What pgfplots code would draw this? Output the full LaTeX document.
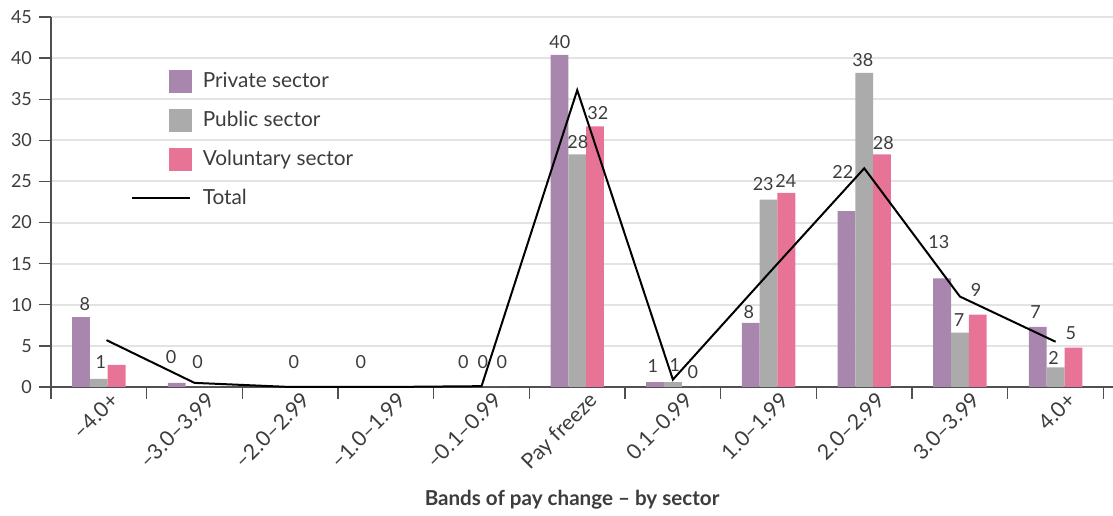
\documentclass[border=0pt]{standalone}
\usepackage{fontspec}
\setmainfont{Lato}
\usepackage{pgfplots}
\usepackage{pgfplotstable}
\pgfplotsset{compat=1.18}
\usetikzlibrary{calc}

\definecolor{priv}{HTML}{A886AE}
\definecolor{pub}{HTML}{ABABAB}
\definecolor{vol}{HTML}{E77496}
\definecolor{txt}{HTML}{3C3C3C}
\definecolor{gridc}{HTML}{E3E3E3}
\definecolor{axc}{HTML}{505050}

\pgfplotsset{
  sqleg/.style={legend image code/.code={\fill[##1] (18.5pt,-5.75pt) rectangle (30pt,5.75pt); \path (0pt,0pt) (33pt,0pt);}},
  lnleg/.style={legend image code/.code={\draw[##1] (0pt,0pt) -- (29pt,0pt); \path (33pt,0pt);}},
}

% bar heights per band (0 = -4.0+, 5 = pay freeze, 10 = 4.0+)
\pgfplotstableread{
cat priv pub  vol
0   8.5  1.0  2.7
1   0.5  0    0
2   0    0    0
3   0    0    0
4   0    0    0
5   40.4 28.3 31.7
6   0.6  0.6  0
7   7.8  22.8 23.6
8   21.4 38.2 28.3
9   13.2 6.6  8.8
10  7.3  2.4  4.8
}\bars

\begin{document}
\begin{tikzpicture}[lab/.style={font=\fontsize{9}{10}\selectfont, text=txt, inner sep=0pt, anchor=center}]
\begin{axis}[
    name=ax,
    scale only axis,
    width=531pt, height=185pt,
    xmin=-0.5, xmax=10.6,
    ymin=0, ymax=45,
    axis lines*=left,
    axis line style={axc, line width=0.8pt},
    clip=false,
    ytick={0,5,...,45},
    ymajorgrids,
    grid style={gridc, line width=1pt},
    tick style={axc, line width=0.7pt},
    tick align=outside,
    major tick length=6pt,
    xtick={-0.5,0.5,...,10.5},
    xticklabels={},
    extra x ticks={0,1,...,10},
    extra x tick labels={–4.0+,–3.0–3.99,–2.0–2.99,–1.0–1.99,–0.1–0.99,Pay freeze,0.1–0.99,1.0–1.99,2.0–2.99,3.0–3.99,4.0+},
    extra x tick style={major tick length=0pt, grid=none,
        tick label style={rotate=45, anchor=north east, inner sep=0pt, yshift=-5pt, xshift=2.5pt,
        font=\fontsize{10.6}{12}\selectfont}},
    tick label style={font=\fontsize{9}{10}\selectfont, text=txt},
    /pgf/number format/assume math mode=true,
    xlabel={\bfseries Bands of pay change – by sector},
    xlabel style={at={(rel axis cs:0.4906,0)}, anchor=center, yshift=-56.5pt,
        font=\fontsize{10.3}{12}\selectfont, text=txt},
    legend style={at={(axis cs:0.33,38.8)}, anchor=north west, draw=none, fill=none,
        font=\fontsize{10.4}{12}\selectfont, text=txt, row sep=6.3pt, inner sep=0pt,
        nodes={inner sep=2pt}},
    legend cell align=left,
]
\addplot[ybar, bar width=8.9pt, bar shift=-8.9pt, fill=priv, draw=none, sqleg]
    table[x=cat, y=priv] {\bars};
\addlegendentry{Private sector}
\addplot[ybar, bar width=8.9pt, bar shift=0pt, fill=pub, draw=none, sqleg]
    table[x=cat, y=pub] {\bars};
\addlegendentry{Public sector}
\addplot[ybar, bar width=8.9pt, bar shift=8.9pt, fill=vol, draw=none, sqleg]
    table[x=cat, y=vol] {\bars};
\addlegendentry{Voluntary sector}
\addplot[black, line width=1pt, mark=none, lnleg]
    coordinates {(0.08,5.7) (1,0.5) (2,0) (3,0) (4,0.1) (5,36.1) (6,0.9) (7,13.8) (8,26.6) (9,11.0) (10,5.5)};
\addlegendentry{Total}

% value labels
\node[lab] at (axis cs:-0.145,10.1) {8};
\node[lab] at (axis cs:0.022,3.0) {1};
\node[lab] at (axis cs:0.754,3.6) {0};
\node[lab] at (axis cs:1.031,3.0) {0};
\node[lab] at (axis cs:2.039,3.0) {0};
\node[lab] at (axis cs:2.739,3.0) {0};
\node[lab] at (axis cs:3.811,3.0) {0};
\node[lab] at (axis cs:4.014,3.0) {0};
\node[lab] at (axis cs:4.213,3.0) {0};
\node[lab] at (axis cs:4.819,42.0) {40};
\node[lab] at (axis cs:5.007,29.8) {28};
\node[lab] at (axis cs:5.216,33.3) {32};
\node[lab] at (axis cs:5.790,2.5) {1};
\node[lab] at (axis cs:6.020,2.7) {1};
\node[lab] at (axis cs:6.208,1.8) {0};
\node[lab] at (axis cs:6.794,9.1) {8};
\node[lab] at (axis cs:6.944,24.7) {23};
\node[lab] at (axis cs:7.180,25.1) {24};
\node[lab] at (axis cs:7.776,26.1) {22};
\node[lab] at (axis cs:7.985,39.8) {38};
\node[lab] at (axis cs:8.200,29.7) {28};
\node[lab] at (axis cs:8.780,17.6) {13};
\node[lab] at (axis cs:8.990,8.2) {7};
\node[lab] at (axis cs:9.170,11.8) {9};
\node[lab] at (axis cs:9.790,9.1) {7};
\node[lab] at (axis cs:9.980,3.5) {2};
\node[lab] at (axis cs:10.160,6.6) {5};
\end{axis}
\pgfresetboundingbox
\path ($(ax.south west)+(-25.5pt,-64.5pt)$) rectangle ($(ax.north east)+(0pt,8.5pt)$);
\end{tikzpicture}
\end{document}
